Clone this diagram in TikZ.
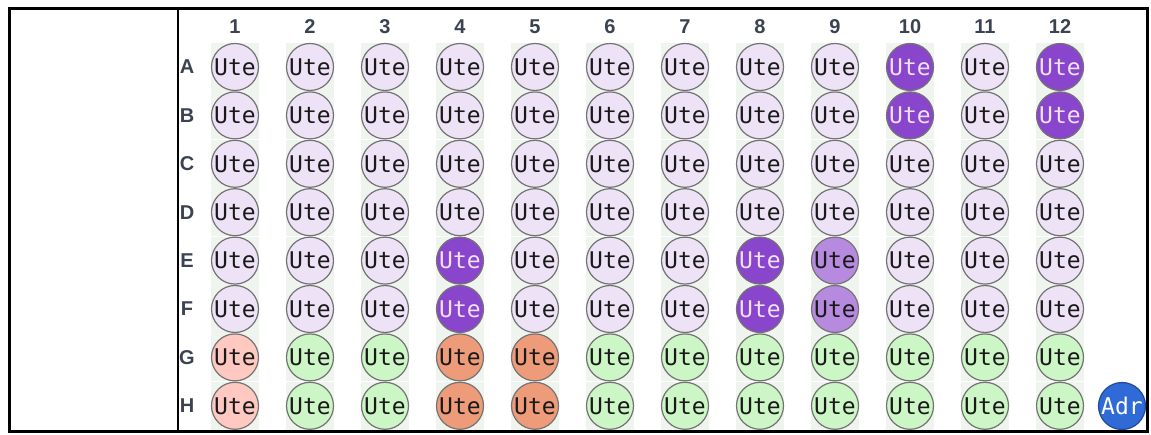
\documentclass[tikz,border=0pt]{standalone}
\usepackage{fontspec}
\setmainfont{Liberation Sans}
\newfontfamily\wellfont{DejaVu Sans Mono}
\definecolor{lavfill}{HTML}{EEE3F6}
\definecolor{darkfill}{HTML}{8A45CD}
\definecolor{midfill}{HTML}{B68ADF}
\definecolor{pinkfill}{HTML}{FFC9C2}
\definecolor{orngfill}{HTML}{EE9B7A}
\definecolor{grnfill}{HTML}{CDF6C6}
\definecolor{adrfill}{HTML}{2F6AD6}
\definecolor{labelgray}{HTML}{3B4250}
\definecolor{bgwell}{HTML}{F0F4EF}
\begin{document}
\begin{tikzpicture}[x=1pt,y=-1pt]
\tikzstyle{well} = [
  shape=circle,
  minimum size=47pt,
  inner sep=0pt,
  draw = black!55,
  line width=1.2pt,
  font=\wellfont\fontsize{23}{23}\selectfont
]
\tikzstyle{l} = [fill=lavfill, text=black!90]
\tikzstyle{d} = [fill=darkfill, text=lavfill]
\tikzstyle{m} = [fill=midfill, text=black!90]
\tikzstyle{p} = [fill=pinkfill, text=black!90]
\tikzstyle{o} = [fill=orngfill, text=black!90]
\tikzstyle{g} = [fill=grnfill, text=black!90]
\tikzstyle{hdr} = [
  font=\bfseries\fontsize{20}{20}\selectfont,
  text=labelgray
]

\useasboundingbox (0,0) rectangle (1151,435);

% plate frame
\draw [line width=3pt] (9,9) rectangle (1147,431);
\draw [line width=2pt] (178,9) -- (178,431);

% column numbers
\foreach \c in {1,...,12}
  \node [hdr] (col\c) at ({235+75*(\c-1)},27) {\c};

% rows of wells
\foreach \r/\cols [count=\i] in {
  A/{l,l,l,l,l,l,l,l,l,d,l,d},
  B/{l,l,l,l,l,l,l,l,l,d,l,d},
  C/{l,l,l,l,l,l,l,l,l,l,l,l},
  D/{l,l,l,l,l,l,l,l,l,l,l,l},
  E/{l,l,l,d,l,l,l,d,m,l,l,l},
  F/{l,l,l,d,l,l,l,d,m,l,l,l},
  G/{p,g,g,o,o,g,g,g,g,g,g,g},
  H/{p,g,g,o,o,g,g,g,g,g,g,g}} {
  \node [hdr] (row\r) at (187,{67+48.4*(\i-1)}) {\r};
  \foreach \s [count=\c] in \cols {
    \fill [bgwell] ({235+75*(\c-1)-24},{67+48.4*(\i-1)-24}) rectangle +(48,48);
    \node [well,\s] (w\r\c) at ({235+75*(\c-1)},{67+48.4*(\i-1)}) {Ute};
  }
}

% adapter well
\node [well, fill=adrfill, draw=adrfill!70!black, text=white] (adr) at (1122,406) {Adr};

\end{tikzpicture}
\end{document}
